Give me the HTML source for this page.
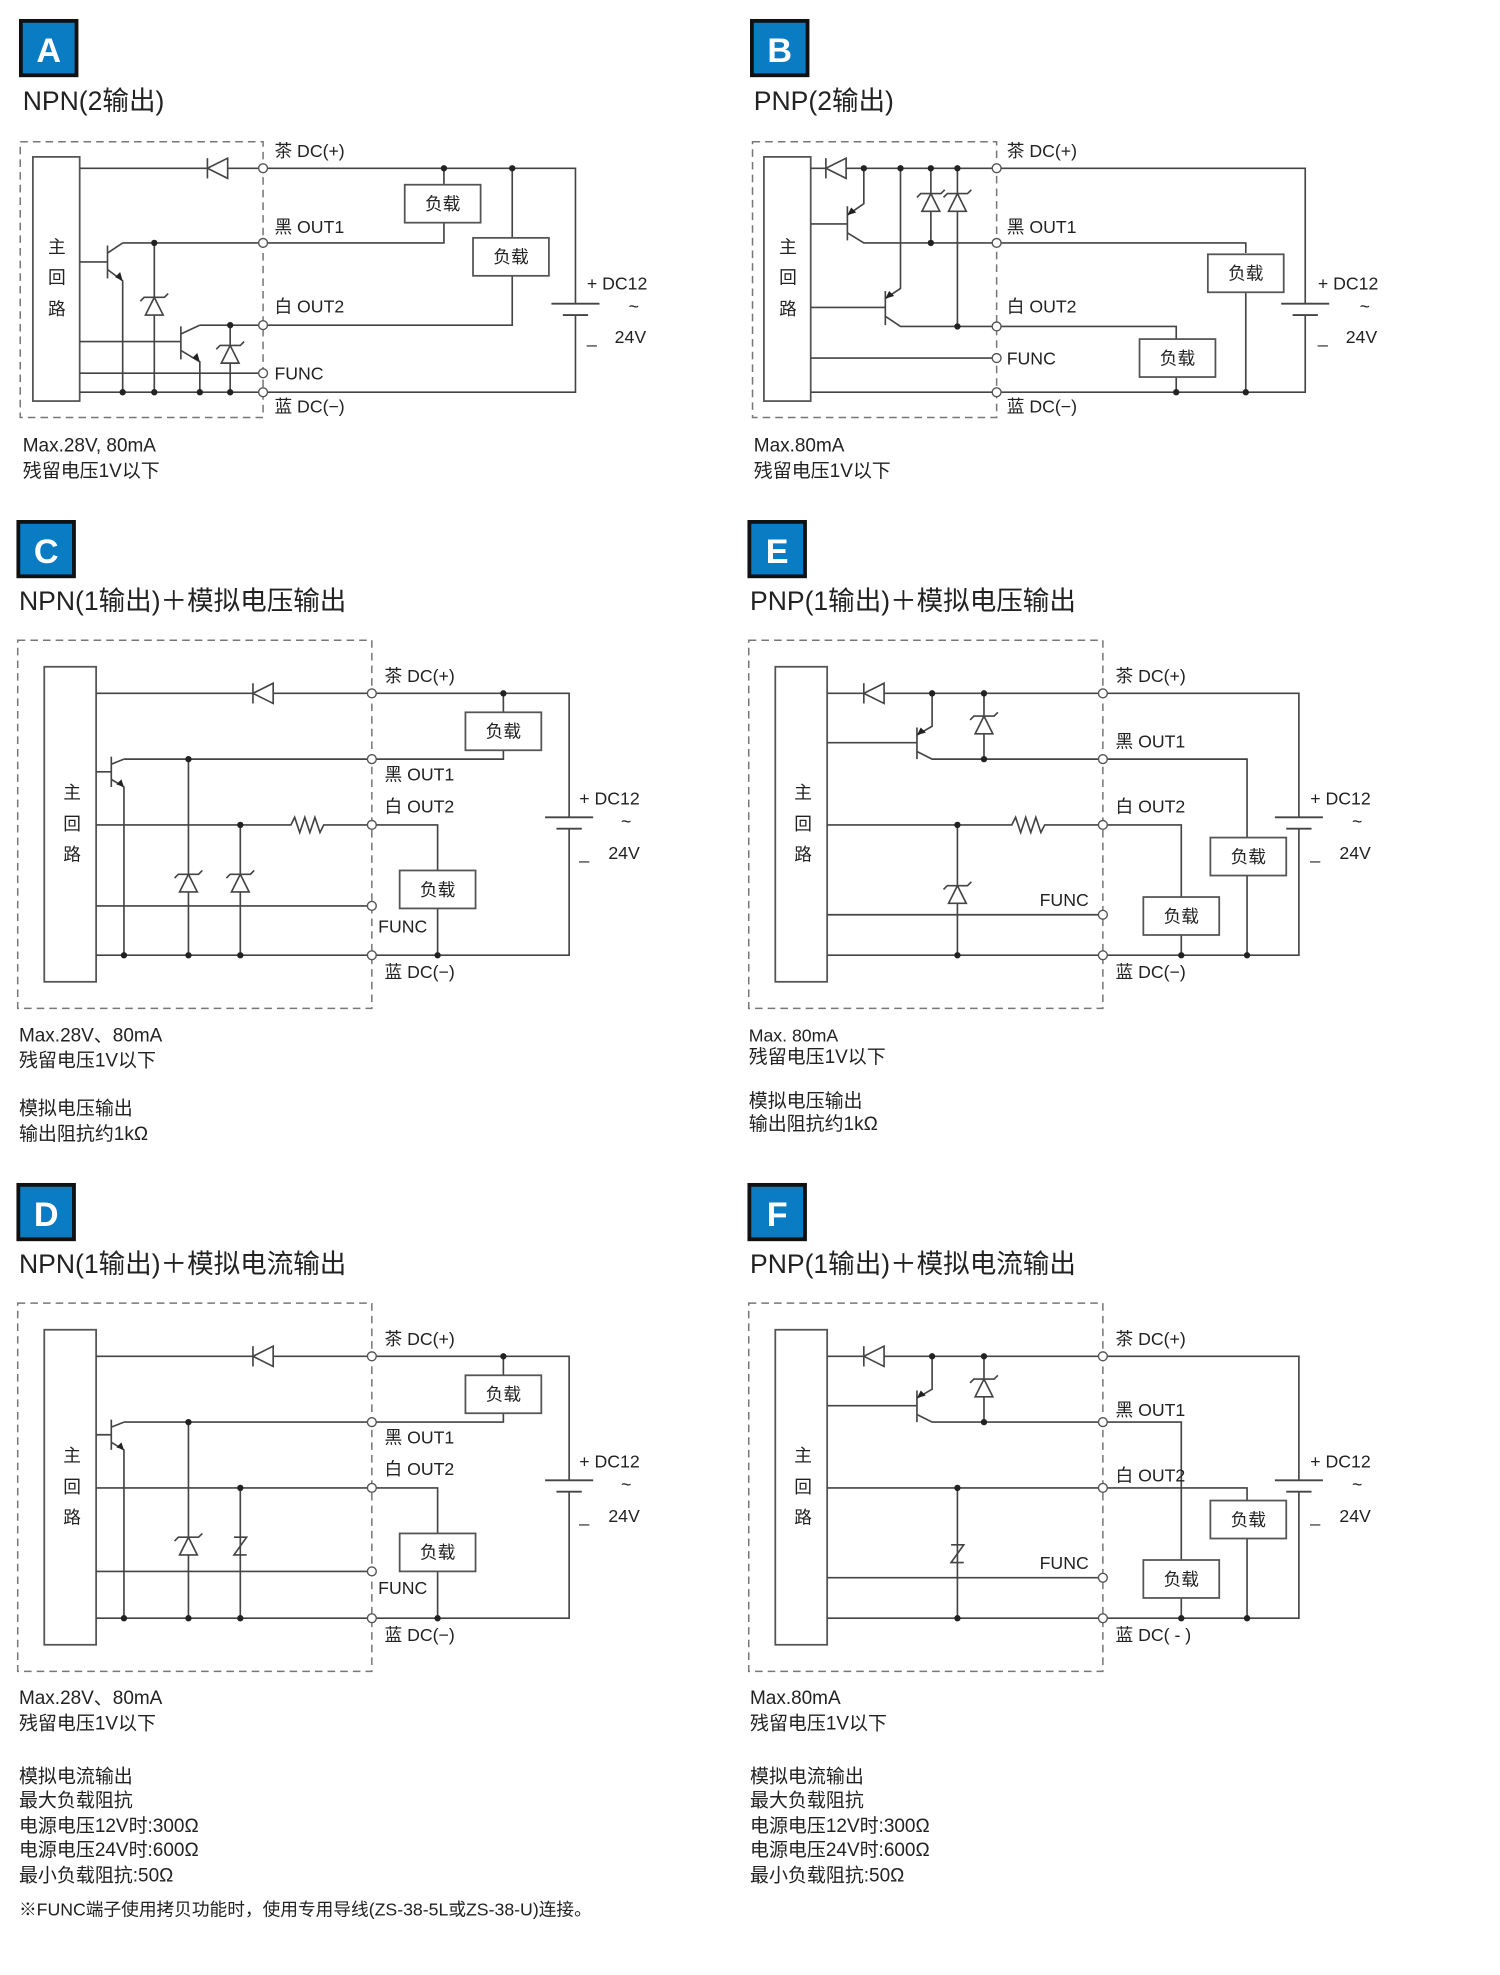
<!DOCTYPE html>
<html><head><meta charset="utf-8"><style>
html,body{margin:0;padding:0;background:#fff;}
svg{display:block;}
text{font-family:"Liberation Sans","Noto Sans CJK SC",sans-serif;fill:#222;}
.l{stroke:#444;stroke-width:1.3;fill:none;}
.d{stroke:#777;stroke-width:1.2;fill:none;stroke-dasharray:6,4;}
.b{stroke:#555;stroke-width:1.4;fill:#fff;}
.t{font-size:14px;}
.m{font-size:15px;}
.h{font-size:21px;}
.k{font-size:27px;font-weight:bold;fill:#fff;}
</style></head><body>
<svg width="1500" height="1975" viewBox="0 0 1186 1561" preserveAspectRatio="none" xmlns="http://www.w3.org/2000/svg">
<defs>
<g id="term"><circle r="3.5" fill="#fff" stroke="#555" stroke-width="1.1"/></g>
<g id="dot"><circle r="2.5" fill="#222"/></g>
<g id="diodeL"><polygon points="8,-8 8,8 -8,0" fill="#fff" stroke="#444" stroke-width="1.3"/><line x1="-8" y1="-8" x2="-8" y2="8" stroke="#444" stroke-width="1.3"/></g>
<g id="zen"><polygon points="-7,7 7,7 0,-7" fill="#fff" stroke="#444" stroke-width="1.3"/><polyline points="-11,-4 -8,-7 8,-7 11,-10" fill="none" stroke="#444" stroke-width="1.3"/></g>
<g id="zz"><polyline points="-5,-7 5,-7 -5,7 5,7" fill="none" stroke="#444" stroke-width="1.3"/></g>
<g id="load"><rect x="0" y="0" width="60" height="30" class="b"/><text x="30" y="20" text-anchor="middle" class="t">负载</text></g>
<g id="bat"><line x1="-19" y1="0" x2="19" y2="0" stroke="#444" stroke-width="1.5"/><line x1="-10" y1="9" x2="10" y2="9" stroke="#444" stroke-width="1.5"/></g>
</defs>

<!-- ===== A ===== -->
<rect x="16.5" y="16.5" width="44" height="43" fill="#0a7cc4" stroke="#111" stroke-width="3"/>
<text x="38.5" y="49" text-anchor="middle" class="k">A</text>
<text x="18" y="87" class="h">NPN(2输出)</text>
<rect x="16" y="112" width="192" height="218" class="d"/>
<rect x="26" y="124" width="37" height="193" class="b"/>
<text x="45" y="200" text-anchor="middle" class="t">主</text>
<text x="45" y="224" text-anchor="middle" class="t">回</text>
<text x="45" y="249" text-anchor="middle" class="t">路</text>
<path class="l" d="M63 133 H455 V240 M455 249 V310 H63 M351 133 V146 M351 175 V192 H97 M405 133 V188 M405 217 V257 H158 M63 295 H208 M63 270 H143 M63 207 H85"/>
<path class="l" d="M85 194 V220 M85 200 L97 192 M85 213 L97 222 V310 M122 192 V310 M143 258 V284 M143 264 L158 257 M143 277 L158 286 V310 M182 257 V310"/>
<polygon points="97,222 91,219 95,215" fill="#222"/><polygon points="158,286 152,283 156,279" fill="#222"/>
<use href="#diodeL" x="172" y="133"/>
<use href="#zen" x="122" y="242"/><use href="#zen" x="182" y="280"/>
<use href="#load" x="320" y="146"/><use href="#load" x="374" y="188"/>
<use href="#bat" x="455" y="240"/>
<use href="#dot" x="351" y="133"/><use href="#dot" x="405" y="133"/><use href="#dot" x="122" y="192"/><use href="#dot" x="182" y="257"/>
<use href="#dot" x="97" y="310"/><use href="#dot" x="122" y="310"/><use href="#dot" x="158" y="310"/><use href="#dot" x="182" y="310"/>
<use href="#term" x="208" y="133"/><use href="#term" x="208" y="192"/><use href="#term" x="208" y="257"/><use href="#term" x="208" y="295"/><use href="#term" x="208" y="310"/>
<text x="217" y="124" class="t">茶 DC(+)</text><text x="217" y="184" class="t">黑 OUT1</text><text x="217" y="247" class="t">白 OUT2</text><text x="217" y="300" class="t">FUNC</text><text x="217" y="326" class="t">蓝 DC(−)</text>
<text x="464" y="229" class="t">+ DC12</text><text x="497" y="247" class="t" font-size="10">~</text><text x="464" y="271" class="t">_</text><text x="486" y="271" class="t">24V</text>
<text x="18" y="357" class="m">Max.28V, 80mA</text><text x="18" y="377" class="m">残留电压1V以下</text>

<!-- ===== B ===== -->
<rect x="594.5" y="16.5" width="44" height="43" fill="#0a7cc4" stroke="#111" stroke-width="3"/>
<text x="616.5" y="49" text-anchor="middle" class="k">B</text>
<text x="596" y="87" class="h">PNP(2输出)</text>
<rect x="595" y="112" width="193" height="218" class="d"/>
<rect x="604" y="124" width="37" height="193" class="b"/>
<text x="623" y="200" text-anchor="middle" class="t">主</text>
<text x="623" y="224" text-anchor="middle" class="t">回</text>
<text x="623" y="249" text-anchor="middle" class="t">路</text>
<path class="l" d="M641 133 H1032 V240 M1032 249 V310 H641 M641 177 H670 M670 163 V190 M670 170 L683 161 V133 M670 184 L683 192 H985 V200 M985 231 V310 M641 243 H700 M700 230 V257 M700 236 L712 228 V133 M700 250 L712 258 H930 V268 M930 298 V310 M736 133 V192 M757 133 V258 M641 283 H788"/>
<polygon points="670,170 673,164 677,168" fill="#222"/><polygon points="700,236 703,230 707,234" fill="#222"/>
<use href="#diodeL" x="661" y="133"/>
<use href="#zen" x="736" y="160"/><use href="#zen" x="757" y="160"/>
<use href="#load" x="955" y="201"/><use href="#load" x="901" y="268"/>
<use href="#bat" x="1032" y="240"/>
<use href="#dot" x="683" y="133"/><use href="#dot" x="712" y="133"/><use href="#dot" x="736" y="133"/><use href="#dot" x="757" y="133"/><use href="#dot" x="736" y="192"/><use href="#dot" x="757" y="258"/><use href="#dot" x="930" y="310"/><use href="#dot" x="985" y="310"/>
<use href="#term" x="788" y="133"/><use href="#term" x="788" y="192"/><use href="#term" x="788" y="258"/><use href="#term" x="788" y="283"/><use href="#term" x="788" y="310"/>
<text x="796" y="124" class="t">茶 DC(+)</text><text x="796" y="184" class="t">黑 OUT1</text><text x="796" y="247" class="t">白 OUT2</text><text x="796" y="288" class="t">FUNC</text><text x="796" y="326" class="t">蓝 DC(−)</text>
<text x="1042" y="229" class="t">+ DC12</text><text x="1075" y="247" class="t" font-size="10">~</text><text x="1042" y="271" class="t">_</text><text x="1064" y="271" class="t">24V</text>
<text x="596" y="357" class="m">Max.80mA</text><text x="596" y="377" class="m">残留电压1V以下</text>

<!-- ===== C ===== -->
<rect x="14.5" y="412.5" width="44" height="43" fill="#0a7cc4" stroke="#111" stroke-width="3"/>
<text x="36.5" y="445" text-anchor="middle" class="k">C</text>
<text x="15" y="482" class="h">NPN(1输出)＋模拟电压输出</text>
<rect x="14" y="506" width="280" height="291" class="d"/>
<rect x="35" y="527" width="41" height="249" class="b"/>
<text x="57" y="631" text-anchor="middle" class="t">主</text><text x="57" y="656" text-anchor="middle" class="t">回</text><text x="57" y="680" text-anchor="middle" class="t">路</text>
<path class="l" d="M76 548 H450 V646 M450 655 V755 H76 M398 548 V563 M398 592 V600 H98 M76 610 H88 M88 598 V622 M88 604 L98 600 M88 616 L98 622 V755 M149 600 V755 M190 652 V755 M76 652 H230 l3,-6 4,12 4,-12 4,12 4,-12 4,12 3,-6 H346 V688 M346 717 V755 M76 716 H294"/>
<polygon points="98,622 92,620 96,616" fill="#222"/>
<use href="#diodeL" x="208" y="548"/>
<use href="#zen" x="149" y="698"/><use href="#zen" x="190" y="698"/>
<use href="#load" x="368" y="563"/><use href="#load" x="316" y="688"/>
<use href="#bat" x="450" y="646"/>
<use href="#dot" x="398" y="548"/><use href="#dot" x="149" y="600"/><use href="#dot" x="190" y="652"/><use href="#dot" x="98" y="755"/><use href="#dot" x="149" y="755"/><use href="#dot" x="190" y="755"/><use href="#dot" x="346" y="755"/>
<use href="#term" x="294" y="548"/><use href="#term" x="294" y="600"/><use href="#term" x="294" y="652"/><use href="#term" x="294" y="716"/><use href="#term" x="294" y="755"/>
<text x="304" y="539" class="t">茶 DC(+)</text><text x="304" y="617" class="t">黑 OUT1</text><text x="304" y="642" class="t">白 OUT2</text><text x="299" y="737" class="t">FUNC</text><text x="304" y="773" class="t">蓝 DC(−)</text>
<text x="458" y="636" class="t">+ DC12</text><text x="491" y="654" class="t" font-size="10">~</text><text x="458" y="679" class="t">_</text><text x="481" y="679" class="t">24V</text>
<text x="15" y="823" class="m">Max.28V、80mA</text><text x="15" y="843" class="m">残留电压1V以下</text>
<text x="15" y="881" class="m">模拟电压输出</text><text x="15" y="901" class="m">输出阻抗约1kΩ</text>

<!-- ===== E ===== -->
<rect x="592.5" y="412.5" width="44" height="43" fill="#0a7cc4" stroke="#111" stroke-width="3"/>
<text x="614.5" y="445" text-anchor="middle" class="k">E</text>
<text x="593" y="482" class="h">PNP(1输出)＋模拟电压输出</text>
<rect x="592" y="506" width="280" height="291" class="d"/>
<rect x="613" y="527" width="41" height="249" class="b"/>
<text x="635" y="631" text-anchor="middle" class="t">主</text><text x="635" y="656" text-anchor="middle" class="t">回</text><text x="635" y="680" text-anchor="middle" class="t">路</text>
<path class="l" d="M654 548 H1027 V646 M1027 655 V755 H654 M654 587 H725 M725 575 V600 M725 581 L737 574 V548 M725 594 L737 600 H986 V662 M986 692 V755 M778 548 V600 M654 652 H800 l3,-6 4,12 4,-12 4,12 4,-12 4,12 3,-6 H934 V709 M934 739 V755 M757 652 V755 M654 723 H872"/>
<polygon points="725,581 728,575 732,579" fill="#222"/>
<use href="#diodeL" x="691" y="548"/>
<use href="#zen" x="778" y="573"/><use href="#zen" x="757" y="707"/>
<use href="#load" x="957" y="662"/><use href="#load" x="904" y="709"/>
<use href="#bat" x="1027" y="646"/>
<use href="#dot" x="737" y="548"/><use href="#dot" x="778" y="548"/><use href="#dot" x="778" y="600"/><use href="#dot" x="757" y="652"/><use href="#dot" x="757" y="755"/><use href="#dot" x="934" y="755"/><use href="#dot" x="986" y="755"/>
<use href="#term" x="872" y="548"/><use href="#term" x="872" y="600"/><use href="#term" x="872" y="652"/><use href="#term" x="872" y="723"/><use href="#term" x="872" y="755"/>
<text x="882" y="539" class="t">茶 DC(+)</text><text x="882" y="591" class="t">黑 OUT1</text><text x="882" y="642" class="t">白 OUT2</text><text x="822" y="716" class="t">FUNC</text><text x="882" y="773" class="t">蓝 DC(−)</text>
<text x="1036" y="636" class="t">+ DC12</text><text x="1069" y="654" class="t" font-size="10">~</text><text x="1036" y="679" class="t">_</text><text x="1059" y="679" class="t">24V</text>
<text x="592" y="823" class="t" font-size="13">Max. 80mA</text><text x="592" y="840" class="m">残留电压1V以下</text>
<text x="592" y="875" class="m">模拟电压输出</text><text x="592" y="893" class="m">输出阻抗约1kΩ</text>

<!-- ===== D ===== -->
<rect x="14.5" y="936.5" width="44" height="43" fill="#0a7cc4" stroke="#111" stroke-width="3"/>
<text x="36.5" y="969" text-anchor="middle" class="k">D</text>
<text x="15" y="1006" class="h">NPN(1输出)＋模拟电流输出</text>
<g transform="translate(0,524)">
<rect x="14" y="506" width="280" height="291" class="d"/>
<rect x="35" y="527" width="41" height="249" class="b"/>
<text x="57" y="631" text-anchor="middle" class="t">主</text><text x="57" y="656" text-anchor="middle" class="t">回</text><text x="57" y="680" text-anchor="middle" class="t">路</text>
<path class="l" d="M76 548 H450 V646 M450 655 V755 H76 M398 548 V563 M398 592 V600 H98 M76 610 H88 M88 598 V622 M88 604 L98 600 M88 616 L98 622 V755 M149 600 V755 M190 652 V755 M76 652 H346 V688 M346 717 V755 M76 718 H294"/>
<polygon points="98,622 92,620 96,616" fill="#222"/>
<use href="#diodeL" x="208" y="548"/>
<use href="#zen" x="149" y="698"/><use href="#zz" x="190" y="698"/>
<use href="#load" x="368" y="563"/><use href="#load" x="316" y="688"/>
<use href="#bat" x="450" y="646"/>
<use href="#dot" x="398" y="548"/><use href="#dot" x="149" y="600"/><use href="#dot" x="190" y="652"/><use href="#dot" x="98" y="755"/><use href="#dot" x="149" y="755"/><use href="#dot" x="190" y="755"/><use href="#dot" x="346" y="755"/>
<use href="#term" x="294" y="548"/><use href="#term" x="294" y="600"/><use href="#term" x="294" y="652"/><use href="#term" x="294" y="718"/><use href="#term" x="294" y="755"/>
<text x="304" y="539" class="t">茶 DC(+)</text><text x="304" y="617" class="t">黑 OUT1</text><text x="304" y="642" class="t">白 OUT2</text><text x="299" y="736" class="t">FUNC</text><text x="304" y="773" class="t">蓝 DC(−)</text>
<text x="458" y="636" class="t">+ DC12</text><text x="491" y="654" class="t" font-size="10">~</text><text x="458" y="679" class="t">_</text><text x="481" y="679" class="t">24V</text>
</g>
<text x="15" y="1347" class="m">Max.28V、80mA</text><text x="15" y="1367" class="m">残留电压1V以下</text>
<text x="15" y="1409" class="m">模拟电流输出</text><text x="15" y="1428" class="m">最大负载阻抗</text>
<text x="15" y="1448" class="m">电源电压12V时:300Ω</text><text x="15" y="1467" class="m">电源电压24V时:600Ω</text>
<text x="15" y="1487" class="m">最小负载阻抗:50Ω</text>
<text x="15" y="1514" class="t" font-size="13">※FUNC端子使用拷贝功能时，使用专用导线(ZS-38-5L或ZS-38-U)连接。</text>

<!-- ===== F ===== -->
<rect x="592.5" y="936.5" width="44" height="43" fill="#0a7cc4" stroke="#111" stroke-width="3"/>
<text x="614.5" y="969" text-anchor="middle" class="k">F</text>
<text x="593" y="1006" class="h">PNP(1输出)＋模拟电流输出</text>
<g transform="translate(0,524)">
<rect x="592" y="506" width="280" height="291" class="d"/>
<rect x="613" y="527" width="41" height="249" class="b"/>
<text x="635" y="631" text-anchor="middle" class="t">主</text><text x="635" y="656" text-anchor="middle" class="t">回</text><text x="635" y="680" text-anchor="middle" class="t">路</text>
<path class="l" d="M654 548 H1027 V646 M1027 655 V755 H654 M654 587 H725 M725 575 V600 M725 581 L737 574 V548 M725 594 L737 600 H934 V709 M934 739 V755 M778 548 V600 M654 652 H986 V662 M986 692 V755 M757 652 V755 M654 723 H872"/>
<polygon points="725,581 728,575 732,579" fill="#222"/>
<use href="#diodeL" x="691" y="548"/>
<use href="#zen" x="778" y="573"/><use href="#zz" x="757" y="704"/>
<use href="#load" x="957" y="662"/><use href="#load" x="904" y="709"/>
<use href="#bat" x="1027" y="646"/>
<use href="#dot" x="737" y="548"/><use href="#dot" x="778" y="548"/><use href="#dot" x="778" y="600"/><use href="#dot" x="757" y="652"/><use href="#dot" x="757" y="755"/><use href="#dot" x="934" y="755"/><use href="#dot" x="986" y="755"/>
<use href="#term" x="872" y="548"/><use href="#term" x="872" y="600"/><use href="#term" x="872" y="652"/><use href="#term" x="872" y="723"/><use href="#term" x="872" y="755"/>
<text x="882" y="539" class="t">茶 DC(+)</text><text x="882" y="595" class="t">黑 OUT1</text><text x="882" y="647" class="t">白 OUT2</text><text x="822" y="716" class="t">FUNC</text><text x="882" y="773" class="t">蓝 DC( - )</text>
<text x="1036" y="636" class="t">+ DC12</text><text x="1069" y="654" class="t" font-size="10">~</text><text x="1036" y="679" class="t">_</text><text x="1059" y="679" class="t">24V</text>
</g>
<text x="593" y="1347" class="m">Max.80mA</text><text x="593" y="1367" class="m">残留电压1V以下</text>
<text x="593" y="1409" class="m">模拟电流输出</text><text x="593" y="1428" class="m">最大负载阻抗</text>
<text x="593" y="1448" class="m">电源电压12V时:300Ω</text><text x="593" y="1467" class="m">电源电压24V时:600Ω</text>
<text x="593" y="1487" class="m">最小负载阻抗:50Ω</text>
</svg>
</body></html>
